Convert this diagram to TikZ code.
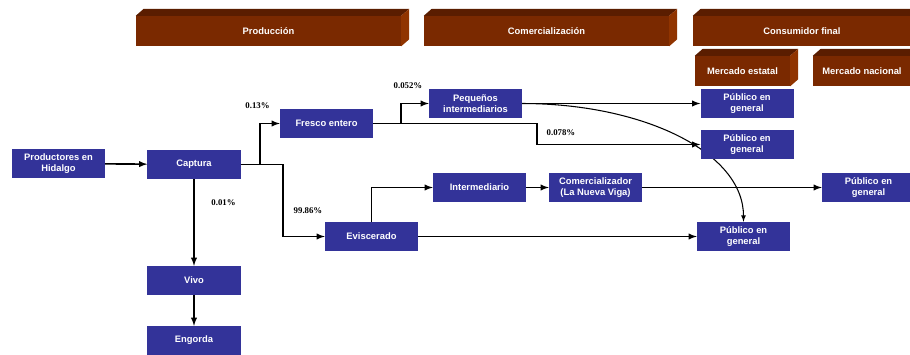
\documentclass[tikz,border=0pt]{standalone}
\usepackage{fontspec}
\setsansfont{Liberation Sans}
\setmainfont{Liberation Serif}
\usetikzlibrary{arrows,positioning}
\definecolor{azul}{HTML}{333399}
\definecolor{cafe}{HTML}{7A2900}
\definecolor{cafeosc}{HTML}{5A1D00}
\definecolor{cafecla}{HTML}{903400}
\tikzset{caja/.style={fill=azul,text=white,font=\sffamily\bfseries\fontsize{8}{9.5}\selectfont,align=center,minimum width=2.79cm,minimum height=0.87cm,inner sep=1pt},
    barra/.style={fill=cafe,text=white,font=\sffamily\bfseries\fontsize{8}{9.5}\selectfont,minimum height=0.9cm,inner sep=0},
    porc/.style={font=\rmfamily\bfseries\fontsize{7.5}{9}\selectfont,inner sep=0},
    flecha/.style={-latex,line width=1.4pt},
    curva/.style={-latex,line width=0.9pt}}

% top and right faces of a header bar
\newcommand{\relieve}[1]{
  \fill[cafeosc] (#1.north west) -- ++(8,-7) -- ([shift={(8,-7)}]#1.north east) -- (#1.north east) -- cycle;
  \fill[cafecla] (#1.north east) -- ++(8,-7) -- ([shift={(8,-7)}]#1.south east) -- (#1.south east) -- cycle;}

\begin{document}
\begin{tikzpicture}[x=0.03cm,y=-0.03cm]

\clip (0,0) rectangle (910,354);

% header bars

\node (produccion) at (268.5,31) [barra,minimum width=7.95cm] {Producción};
\node (comercial) at (546.5,31) [barra,minimum width=7.35cm] {Comercialización};
\node (consumidor) at (802,31) [barra,minimum width=6.54cm] {Consumidor final};
\node (estatal) at (742.5,71) [barra,minimum width=2.85cm] {Mercado estatal};
\node (nacional) at (862,71) [barra,minimum width=2.94cm] {Mercado nacional};

\relieve{produccion}
\relieve{comercial}
\relieve{consumidor}
\relieve{estatal}
\relieve{nacional}

% boxes

\node (productores) at (58.5,163.5) [caja] {Productores en\\Hidalgo};
\node (captura) at (194,164.5) [caja] {Captura};
\node (fresco) at (326.5,123.5) [caja] {Fresco entero};
\node (pequenos) at (475.5,103.5) [caja] {Pequeños\\intermediarios};
\node (publicoA) at (747,103.5) [caja] {Público en\\general};
\node (intermediario) at (479.5,187.5) [caja] {Intermediario};
\node (comercializador) at (595.5,187.5) [caja] {Comercializador\\(La Nueva Viga)};
\node (publicoC) at (868.5,187.5) [caja] {Público en\\general};
\node (eviscerado) at (371.5,236.5) [caja] {Eviscerado};
\node (publicoD) at (743.5,236.5) [caja] {Público en\\general};
\node (vivo) at (194,280.5) [caja] {Vivo};
\node (engorda) at (194,340.5) [caja] {Engorda};

% branch points

\coordinate (capA) at (260,164.5);
\coordinate (capB) at (283,164.5);
\coordinate (freA) at (401,123.5);
\coordinate (freB) at (537,123.5);

% flows

\draw [flecha] (productores) -- (captura);
\draw [flecha] (captura.east) -- (capB) |- (eviscerado.west);
\draw [flecha] (capA) |- (fresco.west);
\draw [flecha] (captura) -- (vivo);
\draw [flecha] (vivo) -- (engorda);

\draw [flecha] (freA) |- (pequenos.west);
\draw [flecha] (pequenos) -- (publicoA);
\draw [curva] (pequenos.east) .. controls +(120,0) and +(0,-70) .. (publicoD.north);

% this box sits over the curve
\node (publicoB) at (747,144.5) [caja] {Público en\\general};
\draw [flecha] (fresco.east) -- (freB) |- (publicoB.west);

\draw [flecha] (eviscerado.north) |- (intermediario.west);
\draw [flecha] (intermediario) -- (comercializador);
\draw [flecha] (comercializador) -- (publicoC);
\draw [flecha] (eviscerado) -- (publicoD);

% shares

\node (pFresco) at (257.5,106) [porc] {0.13\%};
\node (pPequenos) at (408,86) [porc] {0.052\%};
\node (pPublico) at (561,133) [porc] {0.078\%};
\node (pVivo) at (223.5,203) [porc] {0.01\%};
\node (pEviscerado) at (308,211) [porc] {99.86\%};

\end{tikzpicture}
\end{document}
